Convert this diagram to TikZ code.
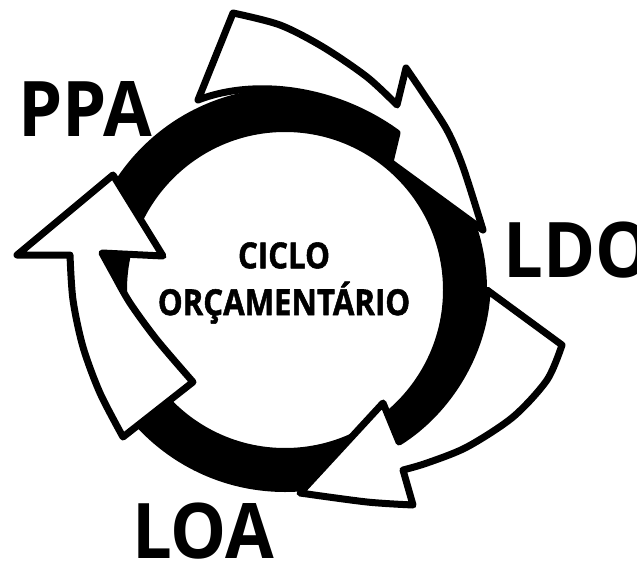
\documentclass[tikz,border=0pt]{standalone}
\usepackage{fontspec}
\setmainfont{Open Sans}
\newfontfamily\cicloFont{Open Sans}[BoldFeatures={FakeBold=1.5}]
\usetikzlibrary{calc}

\begin{document}
\begin{tikzpicture}[x=1bp,y=-1bp,line join=round,line cap=round,
        ring/.style={line width=44bp},
        seta/.style={draw,fill=white,line width=7bp},
        fase/.style={font=\fontsize{77}{77}\selectfont\bfseries,xscale=0.92,
          anchor=base west,inner sep=0pt},
        ciclo/.style={font=\fontsize{36}{47}\selectfont\cicloFont\bfseries,xscale=0.87,
          align=center,inner sep=0pt}]

  \useasboundingbox (0,0) rectangle (637,561);
  \clip (0,0) rectangle (637,561);

  \coordinate (c) at (285,290);
  \draw[ring] (c) circle (180);

  \draw[seta] plot[smooth] coordinates {(233,13) (280,25) (323,47) (367,77) (397,105)}
    -- (406,68)
    -- plot[smooth] coordinates {(406,68) (423,93) (447,130) (463,167) (483,230)}
    -- (390,162) -- (397,133)
    .. controls (335,88) and (255,78) .. (198,100) -- cycle;

  \draw[seta] (487,290)
    -- plot[smooth] coordinates {(562,345) (547,380) (513,417) (467,447) (427,463) (403,470)}
    -- (413,505)
    -- plot[smooth] coordinates {(413,505) (367,502) (300,493)}
    -- (383,403) -- (399,442)
    .. controls (450,410) and (485,350) .. (487,290) -- cycle;

  \draw[seta] (193,382)
    -- plot[smooth] coordinates {(123,437) (100,393) (83,347) (73,300) (70,255)}
    -- (17,255) -- (113,175) -- (163,256) -- (102,253)
    -- plot[smooth] coordinates {(102,253) (113,273) (130,303) (157,340) (193,382)}
    -- cycle;

  \node[fase] (ppa) at (18,137) {PPA};
  \node[fase] (ldo) at (503,277) {LDO};
  \node[fase] (loa) at (132,558) {LOA};
  \node[ciclo] (ciclo) at (284,283) {CICLO\\ORÇAMENTÁRIO};

\end{tikzpicture}
\end{document}
